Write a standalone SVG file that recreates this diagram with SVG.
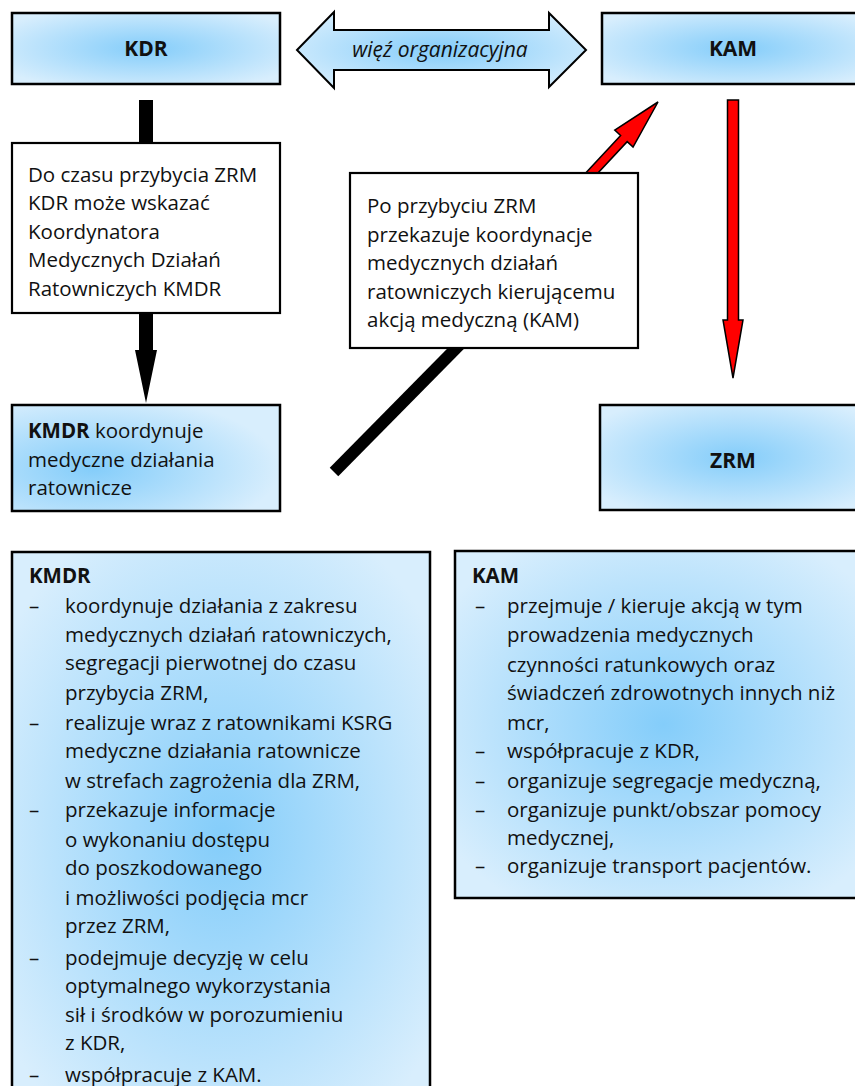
<svg xmlns="http://www.w3.org/2000/svg" width="855" height="1086" viewBox="0 0 855 1086">
  <style>
    .t { font-family: "Open Sans", "Noto Sans", "DejaVu Sans", sans-serif; font-size: 20.5px; fill: #111; }
    .b { font-weight: bold; }
    .lbl { font-family: "Open Sans", "Noto Sans", "DejaVu Sans", sans-serif; font-size: 21px; font-weight: bold; fill: #111; text-anchor: middle; }
    .it { font-family: "Open Sans", "Noto Sans", "DejaVu Sans", sans-serif; font-size: 21px; font-style: italic; fill: #111; text-anchor: middle; }
    .box { stroke: #000; stroke-width: 2.5; }
    .note { fill: #fff; stroke: #000; stroke-width: 2.2; }
    .red { fill: #ff0000; stroke: #000; stroke-width: 1.5; stroke-linejoin: miter; }
  </style>
  <defs>
    <radialGradient id="glow" cx="0.5" cy="0.5" r="0.62">
      <stop offset="0" stop-color="#84cdfa"/>
      <stop offset="1" stop-color="#d8eefd"/>
    </radialGradient>
    <radialGradient id="glowLeft" cx="0.3" cy="0.6" r="0.7">
      <stop offset="0" stop-color="#84cdfa"/>
      <stop offset="1" stop-color="#d8eefd"/>
    </radialGradient>
  </defs>

  <rect width="855" height="1086" fill="#fff"/>

  <!-- connectors -->
  <g id="connectors">
    <!-- KDR down to the note, and the note down to KMDR -->
    <rect x="139" y="100" width="14" height="44" fill="#000"/>
    <polygon points="139,312 153,312 153,350 157,350 146,403 135,350 139,350" fill="#000"/>
    <!-- KMDR hand-over line, running under the second note -->
    <line x1="334" y1="472" x2="480" y2="324" stroke="#000" stroke-width="12"/>
    <!-- red arrow up to KAM -->
    <g transform="translate(658,102) rotate(-47)">
      <polygon class="red" points="0,0 -50,-12.5 -50,-4.5 -150,-4.5 -150,4.5 -50,4.5 -50,12.5"/>
    </g>
    <!-- red arrow KAM down to ZRM -->
    <polygon class="red" points="727.5,100 738.5,100 738.5,320 743,320 733,378 723,320 727.5,320"/>
    <!-- two-headed organisational link -->
    <g id="link">
      <polygon points="297,50 334,12 334,30 549,30 549,13 586,50 549,87 549,70 334,70 334,88" fill="url(#glow)" stroke="#000" stroke-width="2"/>
      <text class="it" x="440" y="57">więź organizacyjna</text>
    </g>
  </g>

  <g id="kdr">
    <rect class="box" x="12" y="13" width="268" height="71" fill="url(#glow)"/>
    <text class="lbl" x="146" y="56">KDR</text>
  </g>

  <g id="kam">
    <rect class="box" x="602" y="13" width="270" height="71" fill="url(#glow)"/>
    <text class="lbl" x="733" y="56">KAM</text>
  </g>

  <g id="note-kmdr">
    <rect class="note" x="12" y="143" width="268" height="170"/>
    <text class="t" x="28" y="182">Do czasu przybycia ZRM</text>
    <text class="t" x="28" y="210">KDR może wskazać</text>
    <text class="t" x="28" y="239">Koordynatora</text>
    <text class="t" x="28" y="267">Medycznych Działań</text>
    <text class="t" x="28" y="296">Ratowniczych KMDR</text>
  </g>

  <g id="note-handover">
    <rect class="note" x="350" y="173" width="288" height="175"/>
    <text class="t" x="367" y="213">Po przybyciu ZRM</text>
    <text class="t" x="367" y="242">przekazuje koordynacje</text>
    <text class="t" x="367" y="270">medycznych działań</text>
    <text class="t" x="367" y="299">ratowniczych kierującemu</text>
    <text class="t" x="367" y="327">akcją medyczną (KAM)</text>
  </g>

  <g id="kmdr">
    <rect class="box" x="12" y="405" width="268" height="106" fill="url(#glowLeft)"/>
    <text class="t" x="28" y="438"><tspan class="b">KMDR</tspan> koordynuje</text>
    <text class="t" x="28" y="467">medyczne działania</text>
    <text class="t" x="28" y="495">ratownicze</text>
  </g>

  <g id="zrm">
    <rect class="box" x="600" y="405" width="272" height="105" fill="url(#glow)"/>
    <text class="lbl" x="733" y="468">ZRM</text>
  </g>

  <g id="kmdr-duties">
    <rect class="box" x="12" y="552" width="418" height="570" fill="url(#glow)"/>
    <text class="t b" x="29" y="583">KMDR</text>
    <text class="t" x="29" y="613">–</text>
    <text class="t" x="65" y="613">koordynuje  działania z zakresu</text>
    <text class="t" x="65" y="642">medycznych działań ratowniczych,</text>
    <text class="t" x="65" y="670">segregacji pierwotnej do czasu</text>
    <text class="t" x="65" y="700">przybycia ZRM,</text>
    <text class="t" x="29" y="730">–</text>
    <text class="t" x="65" y="730">realizuje wraz z ratownikami KSRG</text>
    <text class="t" x="65" y="758">medyczne działania ratownicze</text>
    <text class="t" x="65" y="788">w strefach zagrożenia dla ZRM,</text>
    <text class="t" x="29" y="817">–</text>
    <text class="t" x="65" y="817">przekazuje informacje</text>
    <text class="t" x="65" y="847">o wykonaniu  dostępu</text>
    <text class="t" x="65" y="875">do poszkodowanego</text>
    <text class="t" x="65" y="905">i możliwości podjęcia mcr</text>
    <text class="t" x="65" y="933">przez ZRM,</text>
    <text class="t" x="29" y="965">–</text>
    <text class="t" x="65" y="965">podejmuje decyzję w celu</text>
    <text class="t" x="65" y="993">optymalnego wykorzystania</text>
    <text class="t" x="65" y="1022">sił i środków w porozumieniu</text>
    <text class="t" x="65" y="1050">z KDR,</text>
    <text class="t" x="29" y="1082">–</text>
    <text class="t" x="65" y="1082">współpracuje z KAM.</text>
  </g>

  <g id="kam-duties">
    <rect class="box" x="455" y="551" width="417" height="347" fill="url(#glow)"/>
    <text class="t b" x="472" y="583">KAM</text>
    <text class="t" x="475" y="613">–</text>
    <text class="t" x="507" y="613">przejmuje / kieruje akcją w tym</text>
    <text class="t" x="507" y="642">prowadzenia medycznych</text>
    <text class="t" x="507" y="672">czynności ratunkowych oraz</text>
    <text class="t" x="507" y="700">świadczeń zdrowotnych innych niż</text>
    <text class="t" x="507" y="730">mcr,</text>
    <text class="t" x="475" y="758">–</text>
    <text class="t" x="507" y="758">współpracuje z KDR,</text>
    <text class="t" x="475" y="788">–</text>
    <text class="t" x="507" y="788">organizuje segregacje medyczną,</text>
    <text class="t" x="475" y="817">–</text>
    <text class="t" x="507" y="817">organizuje punkt/obszar  pomocy</text>
    <text class="t" x="507" y="845">medycznej,</text>
    <text class="t" x="475" y="873">–</text>
    <text class="t" x="507" y="873">organizuje transport pacjentów.</text>
  </g>
</svg>
